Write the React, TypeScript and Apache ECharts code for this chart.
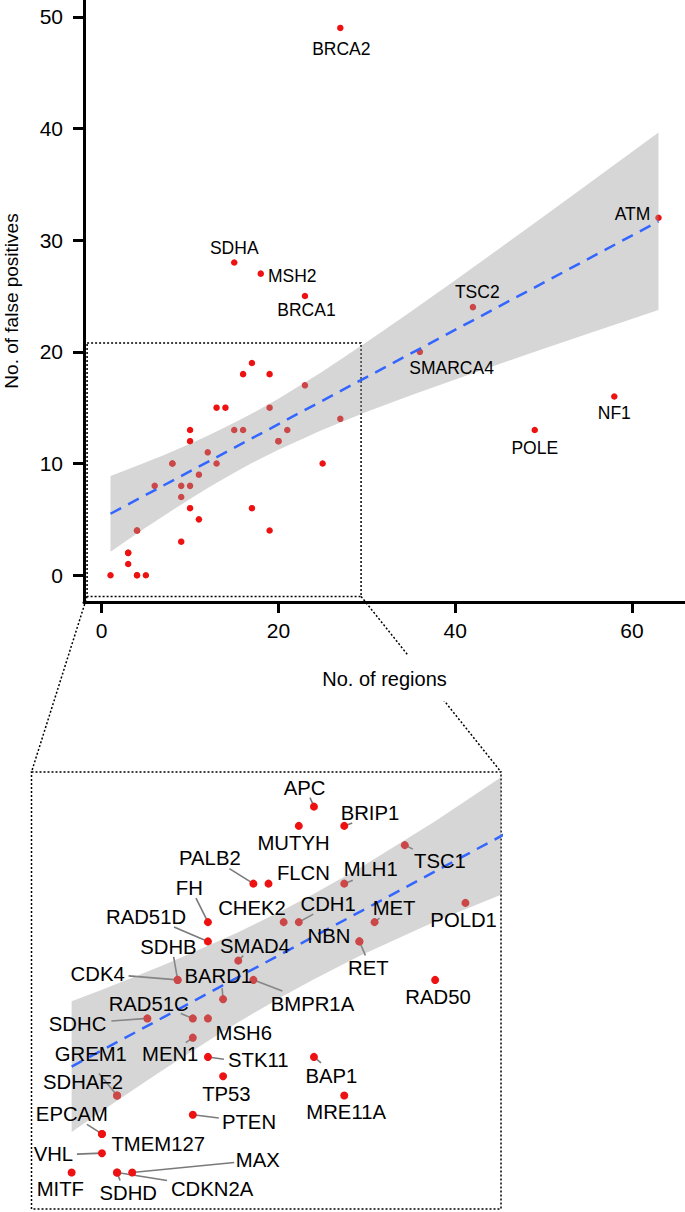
import React, { useEffect, useRef } from "react";
import * as echarts from "echarts";

// ---------- data ----------
const genes = [
  "MITF", "EPCAM", "TMEM127", "VHL", "SDHD", "CDKN2A", "MAX", "GREM1", "SDHAF2", "SDHC",
  "CDK4", "SDHB", "RAD51C", "MEN1", "PTEN", "FH", "RAD51D", "MSH6", "STK11", "BARD1",
  "TP53", "SMAD4", "BMPR1A", "PALB2", "FLCN", "CHEK2", "CDH1", "MUTYH", "APC", "BAP1",
  "BRIP1", "MLH1", "MRE11A", "NBN", "RET", "MET", "TSC1", "RAD50", "POLD1", "BRCA2",
  "SDHA", "MSH2", "BRCA1", "ATM", "TSC2", "SMARCA4", "NF1", "POLE",
];
const regions = [
  1, 3, 3, 3, 4, 4, 5, 4, 4, 6,
  8, 8, 9, 9, 9, 10, 10, 10, 10, 11,
  11, 12, 13, 13, 14, 15, 16, 16, 17, 17,
  19, 19, 19, 20, 20, 21, 23, 25, 27, 27,
  15, 18, 23, 63, 42, 36, 58, 49,
];
const falsePositives = [
  0, 2, 2, 1, 0, 0, 0, 4, 4, 8,
  10, 10, 8, 7, 3, 13, 12, 8, 6, 9,
  5, 11, 10, 15, 15, 13, 13, 18, 19, 6,
  18, 15, 4, 12, 12, 13, 17, 10, 14, 49,
  28, 27, 25, 32, 24, 20, 16, 13,
];

// linear fit (dashed line) and its confidence band
const fitX = [1, 63];
const fitY = [5.5, 31.68];
const bandX = [1, 3, 5, 7, 10, 12, 15, 17, 20, 25, 30, 35, 40, 45, 50, 55, 63];
const bandLower = [2.1, 3.19, 4.26, 5.31, 6.83, 7.8, 9.18, 10.04, 11.24, 13.03, 14.63, 16.11, 17.53, 18.91, 20.27, 21.61, 23.74];
const bandUpper = [8.89, 9.49, 10.11, 10.75, 11.77, 12.48, 13.64, 14.47, 15.8, 18.24, 20.87, 23.6, 26.41, 29.25, 32.11, 35.0, 39.63];

// axis ticks
const xTicks = [0, 20, 40, 60];
const yTicks = [0, 10, 20, 30, 40, 50];

// zoomed region (data units)
const boxX = [-1.65, 29.35];
const boxY = [-1.9, 20.8];

// ---------- layout (label offsets in px, relative to the point) ----------
const topLabelOffsets: Record<string, [number, number]> = {
  BRCA2: [1, 20.6],
  SDHA: [0, -14],
  MSH2: [31.5, 2],
  BRCA1: [1.5, 13.6],
  ATM: [-26, -3.4],
  TSC2: [4.4, -15],
  SMARCA4: [31.7, 16.4],
  NF1: [0, 16.7],
  POLE: [0, 17.7],
};
const insetLabelOffsets: Record<string, [number, number]> = {
  PALB2: [-43.5, -25.2], FH: [-18.6, -33.7], RAD51D: [-61.9, -24.5], SDHB: [-9.2, -33],
  CDK4: [-80, -6.4], CHEK2: [-31.7, -13.7], SMAD4: [16.7, -14.5], BARD1: [-4.8, -22.9],
  BMPR1A: [59.1, 23.6], APC: [-9.4, -18.3], BRIP1: [25.7, -13.1], MUTYH: [-5.3, 16.9],
  TSC1: [35.1, 15.6], FLCN: [34.9, -10.2], MLH1: [26.5, -14.2], CDH1: [29.3, -17.7],
  MET: [19.5, -14.3], NBN: [-30.4, -5.5], RET: [8.9, 26.5], POLD1: [-1.8, 17.2],
  RAD50: [2.9, 17], RAD51C: [-44.1, -14.1], SDHC: [-69.8, 5.2], MSH6: [35.8, 14.2],
  MEN1: [-22.6, 15.9], GREM1: [-26.3, -41.8], SDHAF2: [-34.1, -13.4], STK11: [50.4, 3.4],
  TP53: [3.3, 17.5], PTEN: [56.2, 7.4], EPCAM: [-30, -20.2], TMEM127: [56.3, 9.8],
  VHL: [-48.5, 1.2], MITF: [-11.3, 16.3], SDHD: [11.2, 20.3], CDKN2A: [95, 17],
  MAX: [125.6, -12], BAP1: [17.4, 19.1], MRE11A: [1.9, 16.6],
};
const insetSegments: Record<string, [number, number]> = {
  PALB2: [-24, -15], FH: [-12, -24], RAD51D: [-34, -14.5], SDHB: [-4, -23], CDK4: [-49, -4],
  SMAD4: [5, -5], BARD1: [-1, -11], BMPR1A: [29, 11], APC: [-4, -9], BRIP1: [8, -3],
  TSC1: [8, 4], MLH1: [8.5, -3.5], CDH1: [14.5, -8], MET: [5, -4], RET: [6, 14],
  RAD51C: [-12, -5], SDHC: [-36, 2.6], MEN1: [-7, 5], GREM1: [-18, -22], STK11: [16, 2.4],
  PTEN: [26, 3.4], EPCAM: [-15, -9.5], VHL: [-25, 1], SDHD: [3, 8], CDKN2A: [50, 8],
  MAX: [102, -10], BAP1: [7, 6],
};

const FONT = '"Liberation Sans", Arial, Helvetica, sans-serif';
const RED = "#ee1111";
const BAND = "rgba(153,153,153,0.4)";
const BLUE = "#3366ff";

const allPoints = genes.map((g, i) => [regions[i], falsePositives[i], i]);
const inBox = (i: number) =>
  regions[i] >= boxX[0] && regions[i] <= boxX[1] && falsePositives[i] >= boxY[0] && falsePositives[i] <= boxY[1];
const insetPoints = allPoints.filter((p) => inBox(p[2] as number));
const topLabelPoints = allPoints.filter((p) => topLabelOffsets[genes[p[2] as number]]);

function bandSeries(idx: number) {
  return {
    type: "custom",
    xAxisIndex: idx,
    yAxisIndex: idx,
    z: 3,
    silent: true,
    clip: true,
    data: [[bandX[0], bandLower[0]]],
    encode: { x: 0, y: 1 },
    renderItem: (params: any, api: any) => {
      const up = bandX.map((x, i) => api.coord([x, bandUpper[i]]));
      const lo = bandX.map((x, i) => api.coord([x, bandLower[i]])).reverse();
      const cs = params.coordSys;
      return {
        type: "polygon",
        shape: { points: up.concat(lo) },
        style: { fill: BAND },
        clipPath: { type: "rect", shape: { x: cs.x, y: cs.y, width: cs.width, height: cs.height } },
      };
    },
  };
}

function fitSeries(idx: number) {
  return {
    type: "line",
    xAxisIndex: idx,
    yAxisIndex: idx,
    z: 4,
    silent: true,
    symbol: "none",
    clip: true,
    data: fitX.map((x, i) => [x, fitY[i]]),
    lineStyle: { color: BLUE, width: 2.5, type: [12, 8] },
  };
}

function boxSeries(idx: number) {
  return {
    type: "custom",
    xAxisIndex: idx,
    yAxisIndex: idx,
    z: 2,
    silent: true,
    clip: false,
    data: [[boxX[0], boxY[0]]],
    encode: { x: 0, y: 1 },
    renderItem: (params: any, api: any) => {
      const p0 = api.coord([boxX[0], boxY[1]]);
      const p1 = api.coord([boxX[1], boxY[0]]);
      return {
        type: "rect",
        shape: { x: p0[0], y: p0[1], width: p1[0] - p0[0], height: p1[1] - p0[1] },
        style: { fill: "none", stroke: "#000", lineWidth: 1.5, lineDash: [2, 2] },
      };
    },
  };
}

export default function App() {
  const ref = useRef<HTMLDivElement>(null);

  useEffect(() => {
    if (!ref.current) return;
    const chart = echarts.init(ref.current, null, { renderer: "svg" });

    const axisCommon = {
      type: "value",
      z: 5,
      splitLine: { show: false },
      axisLine: { show: true, onZero: false, lineStyle: { color: "#000", width: 3 } },
    };

    const option: any = {
      animation: false,
      backgroundColor: "#fff",
      grid: [
        { left: 84, top: 0, width: 601, height: 602, containLabel: false, outerBoundsMode: "none" },
        { left: 31.5, top: 772, width: 469.5, height: 437, containLabel: false, outerBoundsMode: "none" },
      ],
      xAxis: [
        {
          ...axisCommon,
          gridIndex: 0,
          min: -2,
          max: 66,
          axisTick: { show: true, length: 11, lineStyle: { color: "#000", width: 3 }, customValues: xTicks },
          axisLabel: { customValues: xTicks, fontSize: 21, color: "#000", fontFamily: FONT, margin: 18 },
          name: "No. of regions",
          nameLocation: "middle",
          nameGap: 53,
          nameTextStyle: {
            fontSize: 20, color: "#000", fontFamily: FONT,
            backgroundColor: "#fff", padding: [14, 3, 12, 3],
          },
        },
        { gridIndex: 1, type: "value", min: boxX[0], max: boxX[1], show: false },
      ],
      yAxis: [
        {
          ...axisCommon,
          gridIndex: 0,
          min: -2.4,
          max: 51.5,
          axisTick: { show: true, length: 11, lineStyle: { color: "#000", width: 3 }, customValues: yTicks },
          axisLabel: { customValues: yTicks, fontSize: 21, color: "#000", fontFamily: FONT, margin: 21 },
          name: "No. of false positives",
          nameLocation: "middle",
          nameGap: 63,
          nameTextStyle: { fontSize: 19, color: "#000", fontFamily: FONT },
        },
        { gridIndex: 1, type: "value", min: boxY[0], max: boxY[1], show: false },
      ],
      series: [
        // ---- main panel ----
        {
          type: "scatter",
          xAxisIndex: 0,
          yAxisIndex: 0,
          z: 2,
          symbolSize: 6.5,
          itemStyle: { color: RED, opacity: 1 },
          data: allPoints,
        },
        bandSeries(0),
        fitSeries(0),
        boxSeries(0),
        {
          type: "custom",
          xAxisIndex: 0,
          yAxisIndex: 0,
          z: 10,
          silent: true,
          clip: false,
          data: topLabelPoints,
          encode: { x: 0, y: 1 },
          renderItem: (params: any, api: any) => {
            const g = genes[api.value(2)];
            const p = api.coord([api.value(0), api.value(1)]);
            const o = topLabelOffsets[g];
            return {
              type: "text",
              x: p[0] + o[0],
              y: p[1] + o[1],
              style: {
                text: g, fontSize: 17.5, fontFamily: FONT, fill: "#000",
                align: "center", verticalAlign: "middle",
              },
            };
          },
        },
        // ---- zoomed panel ----
        {
          type: "custom",
          xAxisIndex: 1,
          yAxisIndex: 1,
          z: 1,
          silent: true,
          clip: false,
          data: insetPoints.filter((p) => insetSegments[genes[p[2] as number]]),
          encode: { x: 0, y: 1 },
          renderItem: (params: any, api: any) => {
            const g = genes[api.value(2)];
            const p = api.coord([api.value(0), api.value(1)]);
            const s = insetSegments[g];
            return {
              type: "line",
              shape: { x1: p[0], y1: p[1], x2: p[0] + s[0], y2: p[1] + s[1] },
              style: { stroke: "#7a7a7a", lineWidth: 1.6 },
            };
          },
        },
        {
          type: "scatter",
          xAxisIndex: 1,
          yAxisIndex: 1,
          z: 2,
          symbolSize: 8,
          itemStyle: { color: RED, opacity: 1 },
          data: insetPoints,
        },
        bandSeries(1),
        fitSeries(1),
        boxSeries(1),
        {
          type: "custom",
          xAxisIndex: 1,
          yAxisIndex: 1,
          z: 10,
          silent: true,
          clip: false,
          data: insetPoints.filter((p) => insetLabelOffsets[genes[p[2] as number]]),
          encode: { x: 0, y: 1 },
          renderItem: (params: any, api: any) => {
            const g = genes[api.value(2)];
            const p = api.coord([api.value(0), api.value(1)]);
            const o = insetLabelOffsets[g];
            return {
              type: "text",
              x: p[0] + o[0],
              y: p[1] + o[1],
              style: {
                text: g, fontSize: 20.3, fontFamily: FONT, fill: "#000",
                align: "center", verticalAlign: "middle",
              },
            };
          },
        },
      ],
    };

    chart.setOption(option);

    // dotted connectors from the boxed region to the zoomed panel
    const a = chart.convertToPixel({ gridIndex: 0 } as any, [boxX[0], boxY[0]]) as number[];
    const b = chart.convertToPixel({ gridIndex: 1 } as any, [boxX[0], boxY[1]]) as number[];
    const c = chart.convertToPixel({ gridIndex: 0 } as any, [boxX[1], boxY[0]]) as number[];
    const d = chart.convertToPixel({ gridIndex: 1 } as any, [boxX[1], boxY[1]]) as number[];
    const dotted = { stroke: "#000", lineWidth: 1.5, lineDash: [2, 2] };
    chart.setOption({
      graphic: [
        { type: "line", z: 1, silent: true, shape: { x1: a[0], y1: a[1], x2: b[0], y2: b[1] }, style: dotted },
        { type: "line", z: 1, silent: true, shape: { x1: c[0], y1: c[1], x2: d[0], y2: d[1] }, style: dotted },
      ],
    });

    return () => chart.dispose();
  }, []);

  return (
    <div
      ref={ref}
      style={{ position: "fixed", left: 0, top: 0, width: 685, height: 1212, background: "#fff" }}
    />
  );
}
